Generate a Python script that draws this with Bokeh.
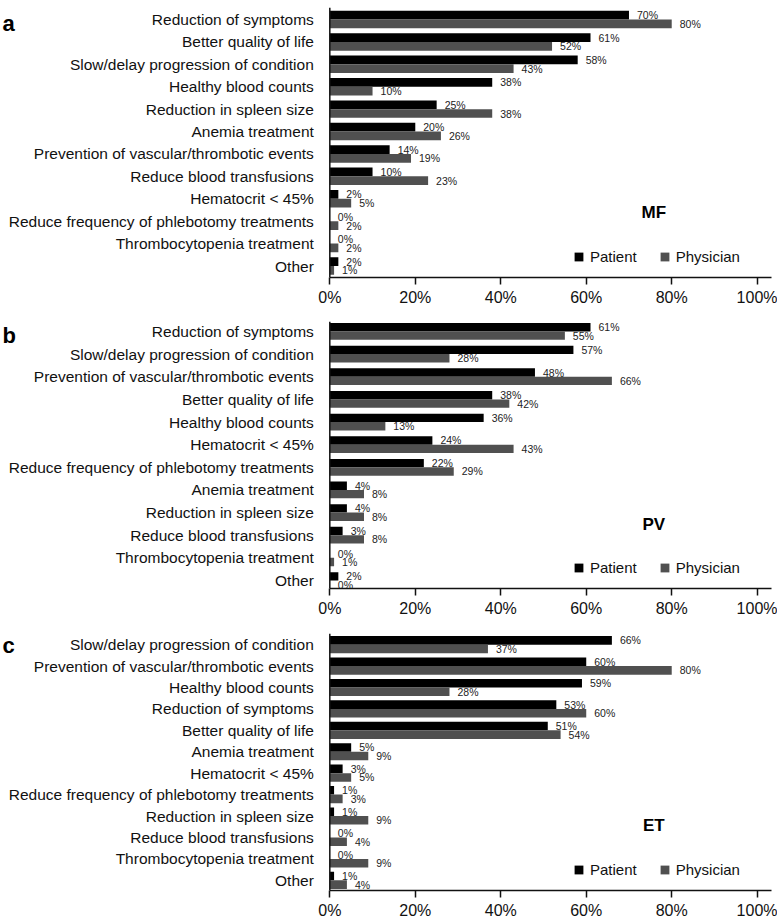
from bokeh.plotting import figure
from bokeh.layouts import column
from bokeh.models import Range1d, FixedTicker, PrintfTickFormatter, ColumnDataSource, Label, Span
from bokeh.transform import dodge
from bokeh.core.properties import value
from bokeh.embed import file_html
from bokeh.resources import INLINE

# ---------------- data ----------------
categories_mf = ["Reduction of symptoms", "Better quality of life", "Slow/delay progression of condition",
                 "Healthy blood counts", "Reduction in spleen size", "Anemia treatment",
                 "Prevention of vascular/thrombotic events", "Reduce blood transfusions", "Hematocrit < 45%",
                 "Reduce frequency of phlebotomy treatments", "Thrombocytopenia treatment", "Other"]
patient_mf = [70, 61, 58, 38, 25, 20, 14, 10, 2, 0, 0, 2]
physician_mf = [80, 52, 43, 10, 38, 26, 19, 23, 5, 2, 2, 1]

categories_pv = ["Reduction of symptoms", "Slow/delay progression of condition",
                 "Prevention of vascular/thrombotic events", "Better quality of life", "Healthy blood counts",
                 "Hematocrit < 45%", "Reduce frequency of phlebotomy treatments", "Anemia treatment",
                 "Reduction in spleen size", "Reduce blood transfusions", "Thrombocytopenia treatment", "Other"]
patient_pv = [61, 57, 48, 38, 36, 24, 22, 4, 4, 3, 0, 2]
physician_pv = [55, 28, 66, 42, 13, 43, 29, 8, 8, 8, 1, 0]

categories_et = ["Slow/delay progression of condition", "Prevention of vascular/thrombotic events",
                 "Healthy blood counts", "Reduction of symptoms", "Better quality of life", "Anemia treatment",
                 "Hematocrit < 45%", "Reduce frequency of phlebotomy treatments", "Reduction in spleen size",
                 "Reduce blood transfusions", "Thrombocytopenia treatment", "Other"]
patient_et = [66, 60, 59, 53, 51, 5, 3, 1, 1, 0, 0, 1]
physician_et = [37, 80, 28, 60, 54, 9, 5, 3, 9, 4, 9, 4]

x_ticks = [0, 20, 40, 60, 80, 100]
series_names = ["Patient", "Physician"]

# ---------------- style ----------------
FONT = "Liberation Sans"
PAT_COLOR = "#000000"
PHY_COLOR = "#505050"
TXT = "#111111"
FIG_W = 777
X_START = -77.05   # room on the left for the category names
X_END = 104.75
AXIS_END = 103.4


def panel(letter, code, cats, pat, phy, fig_h, top, bottom, y_start, y_end, bar_h,
          code_y, letter_y, legend_y):
    n = len(cats)
    src = ColumnDataSource(dict(
        idx=list(range(n)), cat=cats, pat=pat, phy=phy,
        pat_lbl=[f"{v}%" for v in pat], phy_lbl=[f"{v}%" for v in phy]))
    p = figure(width=FIG_W, height=fig_h, output_backend="svg", toolbar_location=None,
               x_range=Range1d(X_START, X_END), y_range=Range1d(y_start, y_end),
               min_border_left=0, min_border_right=0, min_border_top=top, min_border_bottom=bottom)
    p.grid.visible = False
    p.outline_line_color = None
    p.yaxis.visible = False

    y_pat = dodge("idx", -bar_h / 2, range=p.y_range)
    y_phy = dodge("idx", bar_h / 2, range=p.y_range)
    p.hbar(y=y_pat, left=0, right="pat", height=bar_h, source=src, fill_color=PAT_COLOR,
           line_color=None, legend_label=series_names[0])
    p.hbar(y=y_phy, left=0, right="phy", height=bar_h, source=src, fill_color=PHY_COLOR,
           line_color=None, legend_label=series_names[1])
    p.text(x="pat", y=y_pat, text="pat_lbl", source=src, x_offset=8, text_baseline="middle",
           text_font=value(FONT), text_font_size="10.5px", text_color="#222222")
    p.text(x="phy", y=y_phy, text="phy_lbl", source=src, x_offset=8, text_baseline="middle",
           text_font=value(FONT), text_font_size="10.5px", text_color="#222222")

    # category names (left of the value axis)
    p.text(x=0, y="idx", text="cat", source=src, x_offset=-16, text_align="right",
           text_baseline="middle", text_font=value(FONT), text_font_size="15.5px", text_color=TXT)
    # vertical axis line at 0 %
    p.add_layout(Span(location=0, dimension="height", line_color=TXT, line_width=1.5))

    xa = p.xaxis[0]
    xa.bounds = (0, AXIS_END)
    xa.ticker = FixedTicker(ticks=x_ticks)
    xa.formatter = PrintfTickFormatter(format="%d%%")
    xa.major_tick_out = 7
    xa.major_tick_in = 0
    xa.minor_tick_out = 0
    xa.minor_tick_in = 0
    xa.major_tick_line_width = 1.5
    xa.major_tick_line_color = TXT
    xa.major_label_standoff = 4
    xa.major_label_text_font = FONT
    xa.major_label_text_font_size = "16px"
    xa.major_label_text_color = TXT
    xa.axis_line_width = 1.5
    xa.axis_line_color = TXT

    p.add_layout(Label(x=75.8, y=code_y, text=code, text_font=FONT, text_font_size="17px",
                       text_font_style="bold", text_align="center", text_baseline="middle",
                       text_color="#000000"))
    p.add_layout(Label(x=-76.6, y=letter_y, text=letter, text_font=FONT,
                       text_font_size="22px", text_font_style="bold", text_align="left",
                       text_baseline="alphabetic", text_color="#000000"))

    lg = p.legend[0]
    lg.orientation = "horizontal"
    lg.location = (573, legend_y)
    lg.padding = 0
    lg.margin = 0
    lg.spacing = 22
    lg.label_standoff = 6
    lg.glyph_width = 11
    lg.glyph_height = 11
    lg.label_height = 11
    lg.label_text_font = FONT
    lg.label_text_font_size = "15px"
    lg.label_text_color = TXT
    lg.background_fill_alpha = 0
    lg.border_line_alpha = 0
    return p


pa = panel("a", "MF", categories_mf, patient_mf, physician_mf, 312, 7, 35, 11.513, -0.535, 0.39,
           8.6, 0.18, 12)
pb = panel("b", "PV", categories_pv, patient_pv, physician_pv, 310, 9, 34, 11.353, -0.44, 0.37,
           8.52, 0.18, 12)
pc = panel("c", "ET", categories_et, patient_et, physician_et, 299, 11, 28, 11.475, -0.52, 0.40,
           8.42, 0.03, 12)

layout = column(pa, pb, pc, spacing=0)
open("out.html", "w").write(file_html(layout, INLINE))
